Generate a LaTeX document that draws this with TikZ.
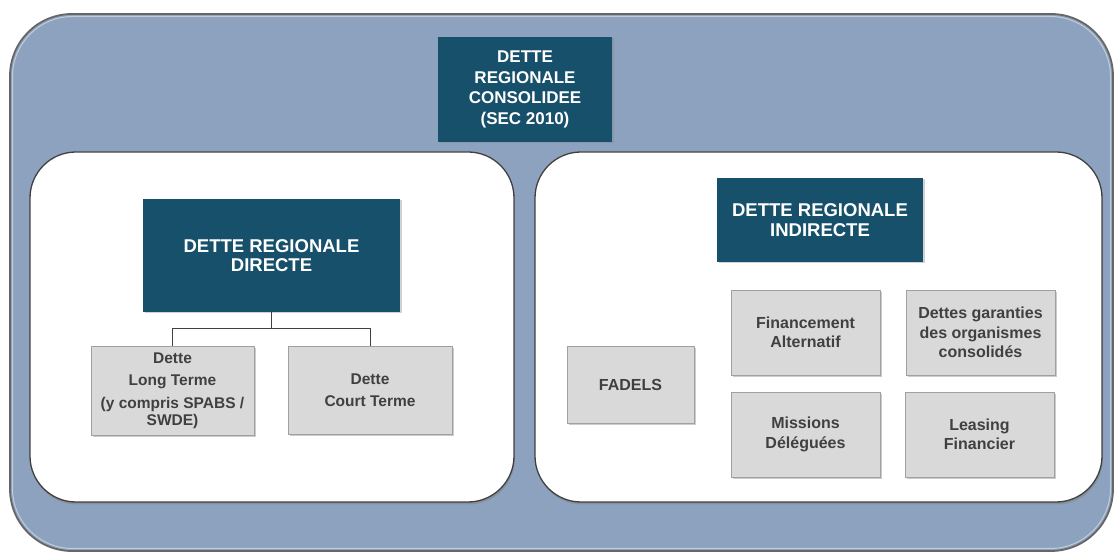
\documentclass[tikz,border=0pt]{standalone}
\usepackage{fontspec}
\setmainfont{Liberation Sans}
\usetikzlibrary{shadows}
\definecolor{fondbleu}{HTML}{8DA2BE}
\definecolor{petrole}{HTML}{17506A}
\definecolor{grisboite}{HTML}{D9D9D9}
\definecolor{grisbord}{HTML}{A0A0A0}
\definecolor{gristexte}{HTML}{404040}
\begin{document}
\begin{tikzpicture}[x=1pt,y=1pt,
        titre/.style={fill=petrole,text=white,align=center,inner sep=0pt,
            drop shadow={shadow xshift=1.5pt,shadow yshift=-1.5pt,opacity=0.35}},
        gris/.style={fill=grisboite,draw=grisbord,line width=0.8pt,text=gristexte,align=center,inner sep=0pt,
            drop shadow={shadow xshift=2pt,shadow yshift=-2pt,opacity=0.4}},
        panneau/.style={fill=white,draw=black!75,line width=1.3pt,rounded corners=46pt,
            drop shadow={shadow xshift=1pt,shadow yshift=-2.5pt,opacity=0.5}},
        trait/.style={draw=gristexte,line width=0.9pt}]
    \useasboundingbox (0,0) rectangle (1115,553);
    % fond
    \draw [fill=fondbleu,draw=black!60,line width=1.8pt,rounded corners=62pt] (10,2) rectangle (1113,539);
    \draw [white!45!fondbleu,line width=1pt,rounded corners=60pt] (12.5,4.5) rectangle (1110.5,536.5);
    \path [panneau] (30,51) rectangle (514,401);
    \path [panneau] (535,51) rectangle (1102,401);
    % titres
    \node [titre,minimum width=174pt,minimum height=105pt,font=\fontsize{17}{20.6}\selectfont\bfseries] (consolidee) at (525,463.5) {DETTE\\REGIONALE\\CONSOLIDEE\\(SEC 2010)};
    \node [titre,minimum width=257pt,minimum height=113pt,font=\fontsize{18.5}{19.5}\selectfont\bfseries] (directe) at (271.5,297.5) {DETTE REGIONALE\\DIRECTE};
    \node [titre,minimum width=206pt,minimum height=84pt,font=\fontsize{18.5}{20}\selectfont\bfseries] (indirecte) at (820,333) {DETTE REGIONALE\\INDIRECTE};
    % dette directe
    \node [gris,minimum width=163pt,minimum height=89pt,font=\fontsize{15.5}{17}\selectfont\bfseries] (longterme) at (172.5,162.5) {Dette\\[5.5pt]Long Terme\\[5.5pt](y compris SPABS /\\SWDE)};
    \node [gris,minimum width=164pt,minimum height=88pt,font=\fontsize{15.5}{17}\selectfont\bfseries] (courtterme) at (370,163) {Dette\\[5.5pt]Court Terme};
    \draw [trait] (directe.south) -- ++(0,-16) -| (longterme.north);
    \draw [trait] (directe.south) -- ++(0,-16) -| (courtterme.north);
    % dette indirecte
    \node [gris,minimum width=127pt,minimum height=77pt,font=\fontsize{16}{18.5}\selectfont\bfseries] (fadels) at (630.5,168.5) {FADELS};
    \node [gris,minimum width=149pt,minimum height=85pt,font=\fontsize{16}{19}\selectfont\bfseries] (financement) at (805.5,220.5) {Financement\\Alternatif};
    \node [gris,minimum width=149pt,minimum height=85pt,font=\fontsize{16}{19.3}\selectfont\bfseries] (garanties) at (980.5,220.5) {Dettes garanties\\des organismes\\consolidés};
    \node [gris,minimum width=149pt,minimum height=85pt,font=\fontsize{16}{19.3}\selectfont\bfseries] (missions) at (805.5,118.5) {Missions\\Déléguées};
    \node [gris,minimum width=149pt,minimum height=85pt,font=\fontsize{16}{19.3}\selectfont\bfseries] (leasing) at (979.5,118.5) {Leasing\\Financier};
\end{tikzpicture}
\end{document}
